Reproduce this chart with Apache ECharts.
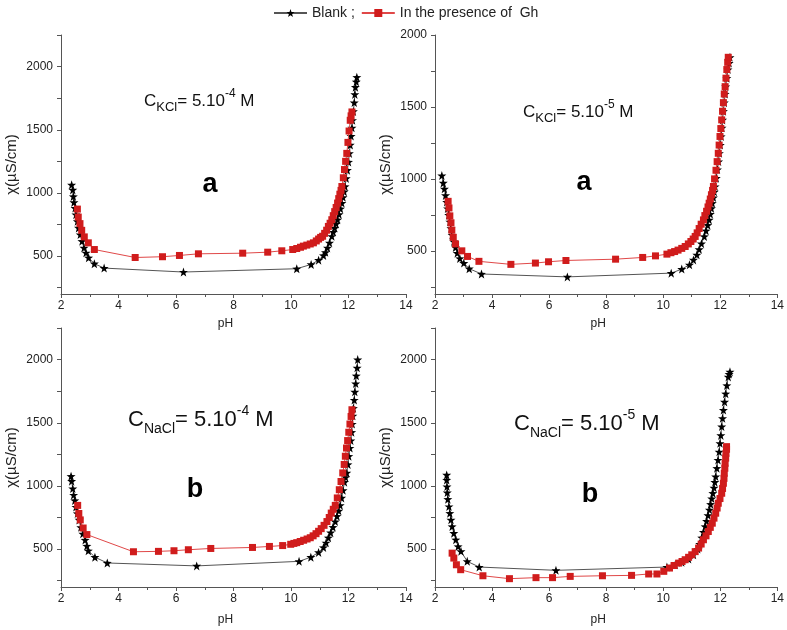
<!DOCTYPE html>
<html>
<head>
<meta charset="utf-8">
<script src="https://cdn.jsdelivr.net/npm/echarts@6/dist/echarts.min.js"></script>
<style>
html,body{margin:0;padding:0;background:#fff;}
#chart{width:787px;height:630px;}
</style>
</head>
<body>
<div id="chart"></div>
<script>
// ---------- DATA ----------
const xTickLabels = [2, 4, 6, 8, 10, 12, 14];
const yTickLabels = [500, 1000, 1500, 2000];
const legendNames = ['Blank ;', 'In the presence of  Gh'];

// Panel 1: C_KCl = 5.10^-4 M
const kcl4BlankPH  = [2.37,2.41,2.43,2.45,2.49,2.52,2.57,2.61,2.67,2.73,2.80,2.87,2.96,3.16,3.50,6.26,10.20,10.70,10.96,
  11.13,11.20,11.27,11.34,11.42,11.47,11.52,11.57,11.62,11.67,11.72,11.77,11.81,11.85,11.88,11.92,11.96,12.00,12.03,12.06,12.09,12.12,12.14,12.17,12.20,12.22,12.24,12.27,12.29];
const kcl4BlankChi = [1064,1024,972,925,880,828,775,723,670,618,565,526,487,440,405,374,400,434,468,
  505,530,565,605,657,690,722,755,788,830,875,920,965,1010,1051,1115,1180,1245,1313,1380,1450,1515,1575,1645,1715,1780,1837,1880,1916];
const kcl4GhPH  = [2.57,2.60,2.66,2.72,2.81,2.95,3.16,4.58,5.53,6.12,6.78,8.32,9.19,9.68,
  10.06,10.20,10.33,10.43,10.55,10.67,10.78,10.88,10.96,11.03,11.10,11.17,11.24,11.30,11.36,11.42,11.47,11.52,11.57,11.62,11.66,11.70,11.74,11.77,11.82,11.86,11.90,11.94,11.98,12.02,12.06,12.09,12.12];
const kcl4GhChi = [872,809,757,704,652,605,552,489,495,505,518,523,531,542,
  552,560,570,579,587,596,605,620,635,648,657,680,705,735,760,788,820,852,885,920,955,990,1020,1051,1120,1185,1250,1313,1400,1490,1575,1610,1641];

// Panel 2: C_KCl = 5.10^-5 M
const kcl5BlankPH  = [2.24,2.29,2.33,2.37,2.41,2.44,2.48,2.52,2.56,2.60,2.66,2.72,2.78,2.87,3.01,3.20,3.63,6.64,10.28,10.65,10.92,11.06,11.18,
  11.26,11.34,11.44,11.50,11.56,11.61,11.65,11.69,11.72,11.76,11.79,11.82,11.86,11.90,11.94,11.97,12.00,12.03,12.06,12.08,12.11,12.14,12.17,12.19,12.23,12.27,12.31,12.34];
const kcl5BlankChi = [1023,972,931,885,839,794,748,702,656,610,564,523,484,447,415,376,339,319,345,373,403,437,472,
  510,550,600,640,678,715,755,795,831,870,910,947,1005,1065,1120,1178,1235,1295,1355,1410,1470,1530,1590,1641,1700,1760,1805,1845];
const kcl5GhPH  = [2.46,2.49,2.52,2.56,2.59,2.64,2.72,2.94,3.14,3.54,4.66,5.52,5.98,6.59,8.33,9.28,9.73,
  10.13,10.27,10.40,10.52,10.65,10.77,10.88,10.97,11.05,11.12,11.19,11.26,11.33,11.41,11.46,11.52,11.57,11.61,11.65,11.69,11.73,11.76,11.80,11.85,11.89,11.93,11.96,11.99,12.02,12.05,12.08,12.11,12.14,12.17,12.20,12.23,12.26,12.28];
const kcl5GhChi = [844,798,743,695,644,594,548,500,461,427,406,415,424,433,442,454,465,
  477,487,495,505,517,530,548,565,582,600,625,655,685,715,745,775,805,831,860,890,920,947,1000,1060,1120,1178,1235,1295,1350,1410,1470,1530,1590,1641,1700,1760,1810,1845];

// Panel 3: C_NaCl = 5.10^-4 M
const nacl4BlankPH  = [2.35,2.37,2.41,2.44,2.48,2.52,2.57,2.63,2.69,2.76,2.84,2.90,2.95,3.18,3.61,6.72,10.28,10.69,10.96,
  11.13,11.22,11.30,11.38,11.46,11.54,11.60,11.66,11.71,11.76,11.81,11.86,11.90,11.94,11.98,12.01,12.05,12.08,12.11,12.13,12.15,12.17,12.20,12.22,12.25,12.27,12.30,12.32];
const nacl4BlankChi = [1077,1038,979,928,885,833,782,731,672,621,572,525,487,436,390,367,403,436,474,
  513,550,590,630,673,718,760,803,846,905,965,1030,1068,1103,1170,1235,1300,1359,1425,1490,1555,1615,1680,1745,1810,1872,1935,2000];
const nacl4GhPH  = [2.58,2.62,2.67,2.77,2.90,4.52,5.39,5.93,6.43,7.21,8.66,9.25,9.71,
  9.99,10.10,10.20,10.32,10.44,10.56,10.67,10.77,10.87,10.96,11.05,11.15,11.25,11.33,11.40,11.47,11.54,11.61,11.68,11.74,11.80,11.85,11.89,11.93,11.97,12.01,12.05,12.09,12.12];
const nacl4GhChi = [846,782,731,667,615,479,482,487,495,505,513,521,528,
  538,545,551,560,570,580,590,605,622,641,662,688,718,750,785,815,846,905,970,1035,1103,1170,1235,1300,1359,1425,1490,1550,1603];

// Panel 4: C_NaCl = 5.10^-5 M
const nacl5BlankPH  = [2.41,2.41,2.42,2.43,2.45,2.49,2.52,2.56,2.60,2.66,2.73,2.81,2.91,3.13,3.55,6.24,10.13,10.42,10.65,10.89,11.06,
  11.21,11.28,11.35,11.41,11.47,11.52,11.57,11.62,11.66,11.70,11.74,11.78,11.81,11.84,11.88,11.92,11.96,11.99,12.02,12.05,12.08,12.11,12.15,12.19,12.23,12.28,12.31,12.34];
const nacl5BlankChi = [1087,1047,995,947,895,837,784,732,679,626,574,521,482,403,358,332,358,376,395,421,455,
  500,540,590,635,679,722,767,811,855,900,942,985,1030,1074,1140,1205,1270,1337,1400,1470,1535,1600,1665,1730,1795,1863,1885,1903];
const nacl5GhPH  = [2.60,2.66,2.75,2.90,3.68,4.61,5.54,6.12,6.74,7.87,8.89,9.49,9.78,
  10.02,10.22,10.38,10.54,10.66,10.77,10.89,11.00,11.12,11.24,11.33,11.41,11.50,11.58,11.65,11.72,11.78,11.84,11.89,11.93,11.99,12.05,12.08,12.11,12.13,12.14,12.16,12.17,12.19,12.20,12.22,12.22];
const nacl5GhChi = [468,429,376,337,289,266,274,274,284,289,292,303,303,
  324,350,370,389,402,416,435,455,480,508,540,574,605,639,672,705,745,784,825,863,900,942,980,1021,1060,1100,1140,1179,1220,1258,1290,1311];

// ---------- CHART ----------
const FONT = '"Liberation Sans", Arial, Helvetica, sans-serif';
const STAR = 'path://M0,-10L2.35,-3.24L9.51,-3.09L3.8,1.24L5.88,8.09L0,4L-5.88,8.09L-3.8,1.24L-9.51,-3.09L-2.35,-3.24Z';
const AXIS_COLOR = '#555';
const TEXT_COLOR = '#222';

function pairs(xs, ys) { return xs.map((x, i) => [x, ys[i]]); }

const panels = [
  { grid: { left: 61, top: 35, width: 345, height: 259 }, yMax: 2250, pHGap: 24, blank: [kcl4BlankPH, kcl4BlankChi], gh: [kcl4GhPH, kcl4GhChi] },
  { grid: { left: 435, top: 35, width: 344, height: 259 }, yMax: 2000, pHGap: 24, blank: [kcl5BlankPH, kcl5BlankChi], gh: [kcl5GhPH, kcl5GhChi] },
  { grid: { left: 61, top: 328, width: 345, height: 259 }, yMax: 2250, pHGap: 27, blank: [nacl4BlankPH, nacl4BlankChi], gh: [nacl4GhPH, nacl4GhChi] },
  { grid: { left: 435, top: 328, width: 344, height: 259 }, yMax: 2250, pHGap: 27, blank: [nacl5BlankPH, nacl5BlankChi], gh: [nacl5GhPH, nacl5GhChi] }
];

const yMin = 200;
const grids = [], xAxes = [], yAxes = [], series = [];
panels.forEach((p, i) => {
  grids.push(Object.assign({ containLabel: false }, p.grid));
  xAxes.push({
    type: 'value', gridIndex: i, min: 2, max: 14, interval: 2,
    name: 'pH', nameLocation: 'middle', nameGap: p.pHGap,
    nameTextStyle: { fontFamily: FONT, fontSize: 12, color: TEXT_COLOR, padding: [0, 16, 0, 0] },
    axisLine: { show: true, onZero: false, lineStyle: { color: AXIS_COLOR, width: 1 } },
    axisTick: { show: true, length: 4, lineStyle: { color: AXIS_COLOR } },
    minorTick: { show: true, splitNumber: 2, length: 3, lineStyle: { color: AXIS_COLOR } },
    axisLabel: { fontFamily: FONT, fontSize: 12, color: TEXT_COLOR, margin: 6,
      formatter: v => (xTickLabels.indexOf(v) >= 0 ? String(v) : '') },
    splitLine: { show: false }
  });
  const tickVals = [];
  for (let v = 250; v <= p.yMax; v += 250) tickVals.push(v);
  yAxes.push({
    type: 'value', gridIndex: i, min: yMin, max: p.yMax,
    name: 'χ(µS/cm)', nameLocation: 'middle', nameGap: 42,
    nameTextStyle: { fontFamily: FONT, fontSize: 15, color: TEXT_COLOR },
    axisLine: { show: true, onZero: false, lineStyle: { color: AXIS_COLOR, width: 1 } },
    axisTick: { show: true, length: 4, customValues: tickVals, lineStyle: { color: AXIS_COLOR } },
    axisLabel: { fontFamily: FONT, fontSize: 12, color: TEXT_COLOR, margin: 8, customValues: yTickLabels,
      formatter: v => String(Math.round(v)) },
    splitLine: { show: false }
  });
  series.push({
    name: legendNames[0], type: 'line', xAxisIndex: i, yAxisIndex: i,
    data: pairs(p.blank[0], p.blank[1]),
    symbol: STAR, symbolSize: 9, showSymbol: true,
    lineStyle: { color: '#555', width: 1 },
    itemStyle: { color: '#000' },
    z: 2
  });
  series.push({
    name: legendNames[1], type: 'line', xAxisIndex: i, yAxisIndex: i,
    data: pairs(p.gh[0], p.gh[1]),
    symbol: 'rect', symbolSize: 7, showSymbol: true,
    lineStyle: { color: '#e04848', width: 1 },
    itemStyle: { color: '#d01c1c' },
    z: 3
  });
});

function concLabel(x, y, ion, exp, big) {
  const m = big ? 22 : 17, s = big ? 14 : 13, e = big ? 14 : 12;
  const lh = big ? 32 : 26;
  return {
    type: 'text', x: x, y: y, z: 10,
    style: {
      text: '{m|C}{s|' + ion + '}{m|= 5.10}{p|' + exp + '}{m| M}',
      align: 'left', verticalAlign: 'middle',
      rich: {
        m: { fontFamily: FONT, fontSize: m, fill: '#111', lineHeight: lh, verticalAlign: 'middle' },
        s: { fontFamily: FONT, fontSize: s, fill: '#111', lineHeight: s, verticalAlign: 'bottom' },
        p: { fontFamily: FONT, fontSize: e, fill: '#111', lineHeight: lh - 6, verticalAlign: 'top' }
      }
    }
  };
}
function letter(x, y, t) {
  return { type: 'text', x: x, y: y, z: 10,
    style: { text: t, align: 'center', verticalAlign: 'middle', fill: '#000',
      font: 'bold 27px ' + FONT } };
}

const option = {
  animation: false,
  backgroundColor: '#fff',
  legend: {
    data: legendNames, left: 268, top: 1,
    itemWidth: 33, itemHeight: 10, itemGap: 6,
    textStyle: { fontFamily: FONT, fontSize: 14, color: TEXT_COLOR }
  },
  grid: grids, xAxis: xAxes, yAxis: yAxes, series: series,
  graphic: [
    concLabel(144, 101, 'KCl', '-4', false),
    concLabel(523, 112, 'KCl', '-5', false),
    concLabel(128, 420, 'NaCl', '-4', true),
    concLabel(514, 424, 'NaCl', '-5', true),
    letter(210, 185, 'a'),
    letter(584, 183, 'a'),
    letter(195, 490, 'b'),
    letter(590, 495, 'b')
  ]
};

const chart = echarts.init(document.getElementById('chart'), null, { renderer: 'canvas' });
chart.setOption(option);
</script>
</body>
</html>
